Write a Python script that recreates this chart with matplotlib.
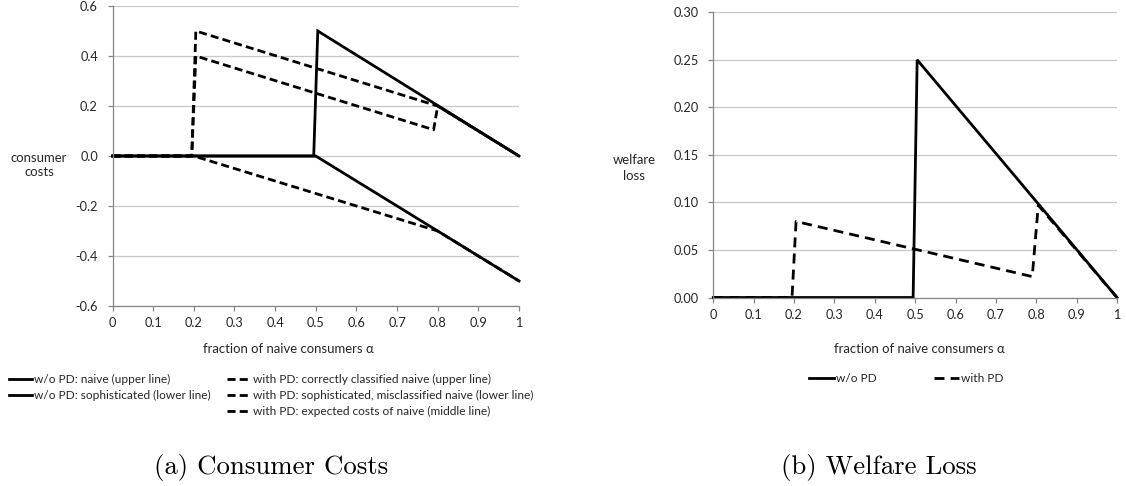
import matplotlib
matplotlib.use("Agg")
import matplotlib.pyplot as plt
from matplotlib.lines import Line2D

W, H = 1126, 486

# (a) consumer costs
alpha_wo_naive = [0, 0.495, 0.505, 1.0]
cost_wo_naive = [0, 0, 0.5, 0]
alpha_wo_soph = [0, 0.5, 1.0]
cost_wo_soph = [0, 0, -0.5]
alpha_pd_correct = [0, 0.195, 0.205, 0.8, 1.0]
cost_pd_correct = [0, 0, 0.5, 0.2, 0]
alpha_pd_mis = [0, 0.2, 0.8, 1.0]
cost_pd_mis = [0, 0, -0.3, -0.5]
alpha_pd_expected = [0, 0.195, 0.205, 0.79, 0.8, 1.0]
cost_pd_expected = [0, 0, 0.4, 0.105, 0.2, 0]

labels_a = [
    "w/o PD: naive (upper line)",
    "w/o PD: sophisticated (lower line)",
    "with PD: correctly classified naive (upper line)",
    "with PD: sophisticated, misclassified naive (lower line)",
    "with PD: expected costs of naive (middle line)",
]

# (b) welfare loss
alpha_wl_wo = [0, 0.495, 0.505, 1.0]
loss_wo = [0, 0, 0.25, 0]
alpha_wl_pd = [0, 0.195, 0.205, 0.79, 0.805, 1.0]
loss_pd = [0, 0, 0.08, 0.022, 0.097, 0]

labels_b = ["w/o PD", "with PD"]

x_ticks = [0, 0.1, 0.2, 0.3, 0.4, 0.5, 0.6, 0.7, 0.8, 0.9, 1.0]
x_ticklabels = ["0", "0.1", "0.2", "0.3", "0.4", "0.5", "0.6", "0.7", "0.8", "0.9", "1"]
y_ticks_a = [-0.6, -0.4, -0.2, 0.0, 0.2, 0.4, 0.6]
y_ticks_b = [0.0, 0.05, 0.10, 0.15, 0.20, 0.25, 0.30]

FONT = "Lato"
SERIF = "cmr10"
TXT = "#262626"
AXC = "#868686"
GRID = "#c8c8c8"
LW = 2.0
DASH_A = (0, (2.9, 1.5))
DASH_B = (0, (3.6, 2.2))

plt.rcParams["font.family"] = [FONT, "DejaVu Sans"]

fig = plt.figure(figsize=(W / 100, H / 100), dpi=100)
renderer = fig.canvas.get_renderer()


def fx(x):
    return x / W


def fy(y):
    return 1 - y / H


def fit_font(s, target_w, family=FONT, base=10.0):
    # font size that makes the string about target_w pixels wide
    t = fig.text(0, 0, s, fontsize=base, family=[family, "DejaVu Sans"])
    w = t.get_window_extent(renderer).width
    t.remove()
    return base * target_w / w


TICK_FS = fit_font("0.30", 25)
TITLE_FS = fit_font("fraction of naive consumers α", 171)
LEG_FS = fit_font(labels_a[1], 177)
CAP_FS = fit_font("(a) Consumer Costs", 235, SERIF)


def style_axes(ax, yticks, yfmt):
    ax.set_xlim(0, 1)
    ax.set_ylim(yticks[0], yticks[-1])
    ax.set_xticks(x_ticks)
    ax.set_xticklabels(x_ticklabels)
    ax.set_yticks(yticks)
    ax.set_yticklabels([yfmt.format(v) for v in yticks])
    ax.grid(axis="y", color=GRID, lw=0.9)
    ax.set_axisbelow(True)
    for s in ["top", "right"]:
        ax.spines[s].set_visible(False)
    for s in ["left", "bottom"]:
        ax.spines[s].set_color(AXC)
        ax.spines[s].set_linewidth(0.9)
    ax.tick_params(axis="both", colors=AXC, labelcolor=TXT, labelsize=TICK_FS,
                   length=3.5, width=0.9, direction="out")
    ax.tick_params(axis="x", pad=4.5)
    ax.tick_params(axis="y", pad=7)


ax1 = fig.add_axes([fx(112.5), fy(306), fx(519 - 112.5), (306 - 6) / H])
ax2 = fig.add_axes([fx(713.3), fy(297.5), fx(1117 - 713.3), (297.5 - 12.3) / H])

style_axes(ax1, y_ticks_a, "{:.1f}")
style_axes(ax2, y_ticks_b, "{:.2f}")

solid = dict(color="black", lw=LW, solid_joinstyle="miter", clip_on=False)
dash_a = dict(color="black", lw=LW, ls=DASH_A, dash_capstyle="butt", clip_on=False)
dash_b = dict(color="black", lw=LW, ls=DASH_B, dash_capstyle="butt", clip_on=False)

# left chart lines
ax1.plot(alpha_wo_naive, cost_wo_naive, **solid)
ax1.plot(alpha_wo_soph, cost_wo_soph, **solid)
ax1.plot(alpha_pd_correct, cost_pd_correct, **dash_a)
ax1.plot(alpha_pd_mis, cost_pd_mis, **dash_a)
ax1.plot(alpha_pd_expected, cost_pd_expected, **dash_a)

# right chart lines
ax2.plot(alpha_wl_wo, loss_wo, **solid)
ax2.plot(alpha_wl_pd, loss_pd, **dash_b)

# axis titles (horizontal, Excel style)
fig.text(fx(39), fy(165), "consumer\ncosts", ha="center", va="center", fontsize=TITLE_FS,
         color=TXT, linespacing=1.3)
fig.text(fx(634), fy(168), "welfare\nloss", ha="center", va="center", fontsize=TITLE_FS,
         color=TXT, linespacing=1.3)
fig.text(fx(288), fy(349), "fraction of naive consumers α", ha="center", va="center",
         fontsize=TITLE_FS, color=TXT)
fig.text(fx(919), fy(349), "fraction of naive consumers α", ha="center", va="center",
         fontsize=TITLE_FS, color=TXT)


# legends, laid out like the Excel ones
def legend_entry(x0, x1, y, label, style):
    fig.add_artist(Line2D([fx(x0), fx(x1)], [fy(y), fy(y)], transform=fig.transFigure, **style))
    fig.text(fx(x1 + 2), fy(y), label, ha="left", va="center", fontsize=LEG_FS, color=TXT)


rows = [379, 395, 411]
legend_entry(9, 32, rows[0], labels_a[0], solid)
legend_entry(9, 32, rows[1], labels_a[1], solid)
legend_entry(227, 251, rows[0], labels_a[2], dash_a)
legend_entry(227, 251, rows[1], labels_a[3], dash_a)
legend_entry(227, 251, rows[2], labels_a[4], dash_a)

legend_entry(809, 834, 378, labels_b[0], solid)
legend_entry(934, 959, 378, labels_b[1], dash_b)

# captions
fig.text(fx(271), fy(467), "(a) Consumer Costs", ha="center", va="center",
         fontsize=CAP_FS, family=SERIF, color="black")
fig.text(fx(879), fy(467), "(b) Welfare Loss", ha="center", va="center",
         fontsize=CAP_FS, family=SERIF, color="black")

fig.savefig("out.png", dpi=100)
